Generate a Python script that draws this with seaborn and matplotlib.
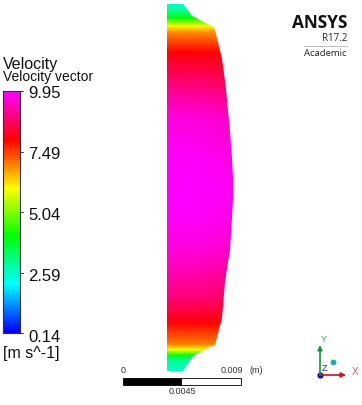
import numpy as np
import seaborn as sns
import matplotlib.pyplot as plt
from matplotlib.colors import LinearSegmentedColormap
from matplotlib.patches import Polygon, Rectangle

# velocity read along the height of the section (mm from centre, m/s)
height_mm = [-13.97, -13.1, -12.75, -12.35, -11.9, -10.3, -8.47, -6.2, -4.7, -2.37, 0,
             2.21, 5.27, 6.8, 8.32, 10.4, 11.91, 12.37, 12.98, 13.6, 14.05]
vel_axis = [2.5, 3.0, 4.0, 6.0, 7.0, 8.0, 8.9, 9.4, 9.65, 9.9, 9.95,
            9.9, 9.7, 9.3, 8.8, 8.0, 6.9, 6.0, 4.0, 2.9, 2.5]
vel_mid = [2.5, 3.0, 4.0, 6.0, 7.0, 8.0, 8.85, 9.35, 9.65, 9.9, 9.95,
           9.9, 9.65, 9.25, 8.75, 8.0, 6.9, 6.0, 4.0, 2.9, 2.5]
vel_wall = [2.5, 3.0, 4.0, 6.0, 7.0, 7.9, 8.7, 9.2, 9.5, 9.75, 9.85,
            9.75, 9.5, 9.1, 8.6, 7.9, 6.9, 6.0, 4.0, 2.9, 2.5]
width_mm = [0, 2.52, 5.04]

# right hand outline of the section, top to bottom (mm)
outline_x = [1.22, 1.91, 3.51, 3.68, 4.2, 4.5, 4.81, 4.97, 5.04, 5.04, 4.97, 4.78, 4.43,
             4.2, 3.68, 3.13, 1.98, 1.22]
outline_y = [14.05, 13.13, 12.29, 12.1, 9.85, 7.56, 4.27, 2.2, 0.8, -0.8, -2.2, -4.66, -7.18,
             -9.9, -12.0, -12.2, -12.8, -13.97]

legend_ticks = ["9.95", "7.49", "5.04", "2.59", "0.14"]
v_min, v_max = 0.14, 9.95

sns.set_style("white")
plt.rcParams['font.family'] = ['Liberation Sans', 'DejaVu Sans']

ansys = LinearSegmentedColormap.from_list(
    "ansys", ["#0000ff", "#00ffff", "#00ff00", "#ffff00", "#ff0000", "#ff00ff"])

W, H = 362, 406
fig = plt.figure(figsize=(W / 100, H / 100), dpi=100)


def px_axes(x0, y0, x1, y1):
    return fig.add_axes([x0 / W, 1 - y1 / H, (x1 - x0) / W, (y1 - y0) / H])


# contour field
ax = px_axes(167, 5, 233, 373)
field = np.array([vel_axis, vel_mid, vel_wall]).T
mesh = ax.pcolormesh(width_mm, height_mm, field, cmap=ansys, vmin=v_min, vmax=v_max,
                     shading="gouraud")
poly = Polygon([(0, outline_y[0])] + list(zip(outline_x, outline_y)) + [(0, outline_y[-1])],
               closed=True, transform=ax.transData, facecolor="none", edgecolor="none")
ax.add_patch(poly)
mesh.set_clip_path(poly)
ax.set_xlim(0, 5.04)
ax.set_ylim(-14.05, 14.05)
ax.axis("off")

# legend strip
cax = px_axes(3, 92, 20, 334)
levels = np.linspace(v_max, v_min, 120).reshape(-1, 1)
sns.heatmap(levels, cmap=ansys, vmin=v_min, vmax=v_max, cbar=False, ax=cax,
            xticklabels=False, yticklabels=False)
for s in cax.spines.values():
    s.set_visible(True)
    s.set_color("#303030")
    s.set_linewidth(0.8)

# everything else sits on a full figure overlay in pixels
ov = fig.add_axes([0, 0, 1, 1], zorder=5)
ov.set_xlim(0, W)
ov.set_ylim(H, 0)
ov.axis("off")
ov.patch.set_alpha(0)

ov.text(3, 68.5, "Velocity", fontsize=11.5, va="baseline", color="#111111")
ov.text(3, 81.5, "Velocity vector", fontsize=10, va="baseline", color="#111111")
for lab, y, t in zip(legend_ticks, [98, 159, 220, 281, 342], [92, 152.5, 213, 273.5, 334]):
    ov.text(28, y, lab, fontsize=12, va="baseline", color="#111111")
    ov.plot([20, 23], [t, t], color="#333333", lw=0.7)
ov.text(3, 358, "[m s^-1]", fontsize=11.5, va="baseline", color="#111111")

# logo
ov.text(347, 23, "ANSYS", fontsize=12.4, fontweight="bold", ha="right", va="center",
        family="Open Sans", color="#111111")
ov.text(347, 38.5, "R17.2", fontsize=7, ha="right", va="center", family="Open Sans",
        color="#222222")
ov.plot([304, 347], [47, 47], color="#bbbbbb", lw=0.7)
ov.text(347, 53.5, "Academic", fontsize=6.8, ha="right", va="center", family="Open Sans",
        color="#222222")

# scale bar
ov.add_patch(Rectangle((123, 379), 58, 7, facecolor="black", edgecolor="black", lw=0.6))
ov.add_patch(Rectangle((181, 379), 60, 7, facecolor="white", edgecolor="black", lw=0.6))
ov.text(123, 371, "0", fontsize=6.5, ha="center", va="center", color="#333333")
ov.text(232, 371, "0.009", fontsize=6.5, ha="center", va="center", color="#333333")
ov.text(256, 371, "(m)", fontsize=6.5, ha="center", va="center", color="#333333")
ov.text(182, 392, "0.0045", fontsize=6.5, ha="center", va="center", color="#333333")

# axis triad
ov.annotate("", xy=(346, 376), xytext=(320, 376),
            arrowprops=dict(arrowstyle="-|>", color="#cc1122", lw=1.2, mutation_scale=7,
                            shrinkA=0, shrinkB=0))
ov.annotate("", xy=(320, 346), xytext=(320, 376),
            arrowprops=dict(arrowstyle="-|>", color="#119933", lw=1.2, mutation_scale=7,
                            shrinkA=0, shrinkB=0))
ov.plot([320], [376], "o", color="#1111aa", ms=3.5)
ov.plot([333], [363], "o", color="#22aaaa", ms=3.2)
ov.text(325, 369, "Z", fontsize=6.5, ha="center", va="center", color="#2222cc")
ov.text(324, 340, "Y", fontsize=6.5, ha="center", va="center", color="#33aa55")
ov.text(355, 372, "X", fontsize=7, ha="center", va="center", color="#dd5566")

fig.savefig("out.png", dpi=100)
